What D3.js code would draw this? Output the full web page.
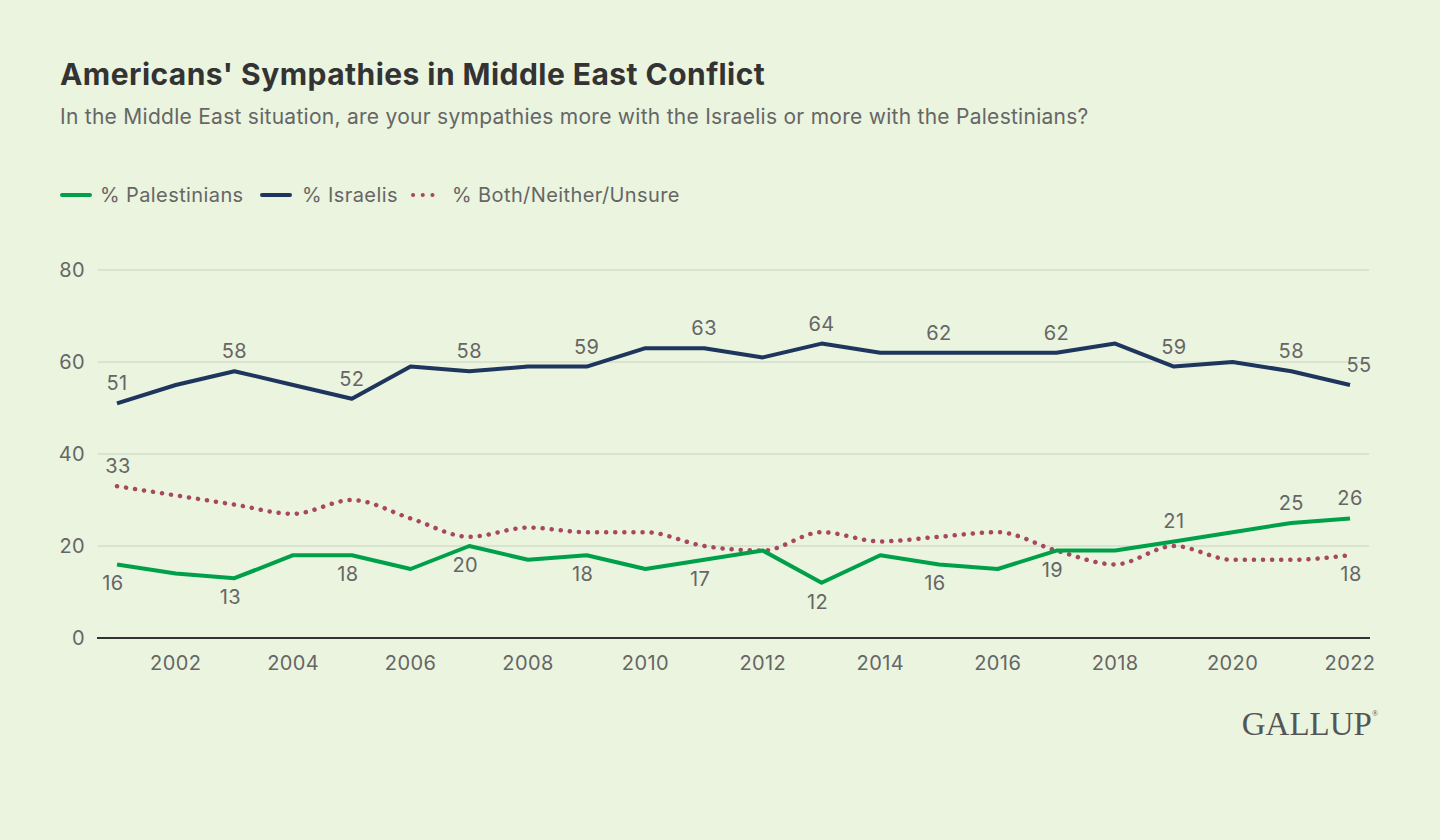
<!DOCTYPE html>
<html><head><meta charset="utf-8">
<script src="https://cdn.jsdelivr.net/npm/d3@7"></script>
<style>
html,body{margin:0;padding:0;background:#EAF4DE;}
svg{display:block;}
</style></head>
<body>
<svg id="chart" width="1440" height="840"></svg>
<script>
const years = [2001,2002,2003,2004,2005,2006,2007,2008,2009,2010,2011,2012,2013,2014,2015,2016,2017,2018,2019,2020,2021,2022];
const palestinians = [16,14,13,18,18,15,20,17,18,15,17,19,12,18,16,15,19,19,21,23,25,26];
const israelis = [51,55,58,55,52,59,58,59,59,63,63,61,64,62,62,62,62,64,59,60,58,55];
const bothNeither = [33,31,29,27,30,26,22,24,23,23,20,19,23,21,22,23,19,16,20,17,17,18];
const yTicks = [0,20,40,60,80];
const xTicks = [2002,2004,2006,2008,2010,2012,2014,2016,2018,2020,2022];
const palLabelYears = [2001,2003,2005,2007,2009,2011,2013,2015,2017,2019,2021,2022];
const isrLabelYears = [2001,2003,2005,2007,2009,2011,2013,2015,2017,2019,2021,2022];
const bothLabelYears = [2001,2022];
const seriesNames = ["% Palestinians","% Israelis","% Both/Neither/Unsure"];

const svg = d3.select("#chart");
const FONT = "Inter, Roboto, sans-serif";
const LS = "0.4px";
const x = d3.scaleLinear().domain([2001,2022]).range([117,1350]);
const y = d3.scaleLinear().domain([0,80]).range([638,270]);

svg.append("text").attr("x",60).attr("y",85).attr("font-family",FONT).attr("font-weight",700)
  .attr("font-size",30).attr("letter-spacing","0.45px").attr("fill","#333").text("Americans' Sympathies in Middle East Conflict");
svg.append("text").attr("x",60).attr("y",124).attr("font-family",FONT)
  .attr("font-size",21).attr("letter-spacing","0.27px").attr("fill","#666").text("In the Middle East situation, are your sympathies more with the Israelis or more with the Palestinians?");

// grid
const g = svg.append("g");
g.selectAll("line.grid").data(yTicks.filter(d=>d>0)).join("line")
  .attr("x1",98).attr("x2",1369).attr("y1",d=>y(d)).attr("y2",d=>y(d))
  .attr("stroke","#D5DDCB").attr("stroke-width",1.3);
g.selectAll("text.ytick").data(yTicks).join("text")
  .attr("x",85).attr("y",d=>y(d)).attr("dy","0.35em").attr("text-anchor","end")
  .attr("font-family",FONT).attr("font-size",20).attr("letter-spacing",LS).attr("fill","#666").text(d=>d);
g.append("line").attr("x1",97).attr("x2",1370).attr("y1",y(0)).attr("y2",y(0))
  .attr("stroke","#333").attr("stroke-width",2);
g.selectAll("text.xtick").data(xTicks).join("text")
  .attr("x",d=>x(d)).attr("y",670).attr("text-anchor","middle")
  .attr("font-family",FONT).attr("font-size",20).attr("letter-spacing",LS).attr("fill","#666").text(d=>d);

const colors = ["#00A04B","#1E355E","#A8475F"];
const lineLin = d3.line().x((d,i)=>x(years[i])).y(d=>y(d));
const lineSmooth = d3.line().x((d,i)=>x(years[i])).y(d=>y(d)).curve(d3.curveMonotoneX);

g.append("path").attr("d",lineSmooth(bothNeither)).attr("fill","none").attr("stroke",colors[2])
  .attr("stroke-width",4.5).attr("stroke-dasharray","0.1 9").attr("stroke-linecap","round");
g.append("path").attr("d",lineLin(palestinians)).attr("fill","none").attr("stroke",colors[0])
  .attr("stroke-width",4).attr("stroke-linejoin","round");
g.append("path").attr("d",lineLin(israelis)).attr("fill","none").attr("stroke",colors[1])
  .attr("stroke-width",4).attr("stroke-linejoin","round");

function labels(vals, lyears, pos){
  const data = lyears.map(yr=>({yr, v: vals[years.indexOf(yr)]}));
  g.selectAll(null).data(data).join("text")
    .attr("x",d=>x(d.yr) + pos(d).dx)
    .attr("y",d=>y(d.v) + pos(d).dy)
    .attr("dy","0.35em").attr("text-anchor","middle")
    .attr("font-family",FONT).attr("font-size",20).attr("letter-spacing",LS).attr("fill","#666").text(d=>d.v);
}
labels(israelis, isrLabelYears, d=> d.yr===2022 ? {dx:9,dy:-20} : {dx:0,dy:-20});
labels(palestinians, palLabelYears, d=> d.yr>=2019 ? {dx:0,dy:-20} : {dx:-4,dy:19});
labels(bothNeither, bothLabelYears, d=> d.yr===2001 ? {dx:1,dy:-20} : {dx:1,dy:19});

// legend
const leg = svg.append("g");
const legItems = [{x:62,tx:100,dash:null},{x:262,tx:302,dash:null},{x:413,tx:452,dash:"0.1 9.6"}];
legItems.forEach((it,i)=>{
  leg.append("line").attr("x1",it.x).attr("x2",it.dash? it.x+29 : it.x+28).attr("y1",195).attr("y2",195)
    .attr("stroke",colors[i]).attr("stroke-width",it.dash?4:4)
    .attr("stroke-dasharray",it.dash).attr("stroke-linecap","round");
  leg.append("text").attr("x",it.tx).attr("y",195).attr("dy","0.35em")
    .attr("font-family",FONT).attr("font-size",20).attr("letter-spacing",LS).attr("fill","#666").text(seriesNames[i]);
});

// logo
const logo = svg.append("text").attr("x",1378).attr("y",735).attr("text-anchor","end")
  .attr("font-family","'Liberation Serif', 'DejaVu Serif', serif").attr("font-size",33).attr("fill","#555");
logo.append("tspan").text("GALLUP");
logo.append("tspan").attr("font-size",8).attr("dy",-19).text("®");
</script>
</body></html>
